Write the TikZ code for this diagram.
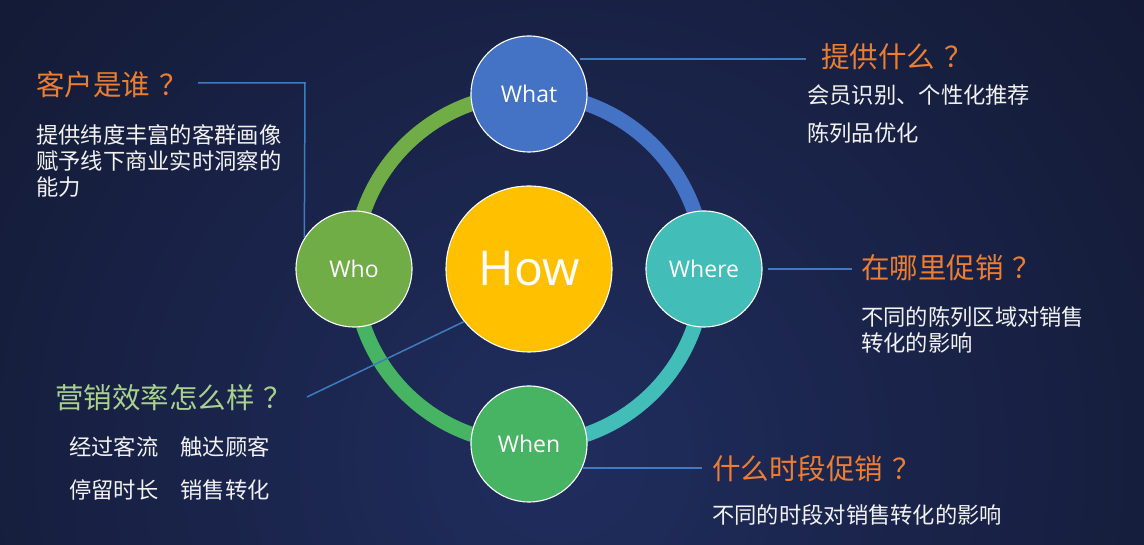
\documentclass[tikz,border=0pt]{standalone}
\usepackage{fontspec}
\newfontfamily\cjk{Noto Sans CJK SC}
\newfontfamily\latinf{Open Sans}
\usetikzlibrary{calc}
\newcommand{\qmk}{\hspace{0.32em}？}
\definecolor{bginner}{HTML}{202D5E}
\definecolor{bgouter}{HTML}{0E1223}
\definecolor{cWhat}{HTML}{4472C4}
\definecolor{cWho}{HTML}{70AD47}
\definecolor{cWhere}{HTML}{43BDB7}
\definecolor{cWhen}{HTML}{46B463}
\definecolor{cHow}{HTML}{FFC000}
\definecolor{cLine}{HTML}{3F7BBE}
\definecolor{cOrange}{HTML}{ED7D31}
\definecolor{cLgreen}{HTML}{A9D18E}
\definecolor{cBody}{HTML}{F2F2F2}
\tikzset{
  sat/.style={circle, draw=white, line width=1.1pt, minimum size=116pt, inner sep=0pt,
    text=white, font=\latinf\fontsize{23}{23}\selectfont},
  ring/.style={line width=15pt},
  conn/.style={draw=cLine, line width=1.5pt},
  qtitle/.style={anchor=west, inner sep=0pt, text=cOrange, font=\cjk\fontsize{28.5}{30}\selectfont},
  qbody/.style={anchor=west, inner sep=0pt, text=cBody, font=\cjk\fontsize{22.3}{24}\selectfont},
}
\begin{document}
\begin{tikzpicture}[x=1pt,y=1pt]
\useasboundingbox (0,0) rectangle (1144,545);
\fill[bgouter] (0,0) rectangle (1144,545);
\begin{scope}
  \clip (0,0) rectangle (1144,545);
  \shade[inner color=bginner, outer color=bgouter] (560,90) circle (1050);
\end{scope}
% ring
\coordinate (ctr) at (529,276);
\draw[ring, cWhat]  (704,276) arc[start angle=0,   end angle=90,  radius=175];
\draw[ring, cWho]   (529,451) arc[start angle=90,  end angle=180, radius=175];
\draw[ring, cWhen]  (354,276) arc[start angle=180, end angle=270, radius=175];
\draw[ring, cWhere] (529,101) arc[start angle=270, end angle=360, radius=175];
% circles
\node[sat, fill=cWhat]  (what)  at (529,451) {What};
\node[sat, fill=cWho]   (who)   at (354,276) {Who};
\node[sat, fill=cWhere] (where) at (704,276) {Where};
\node[sat, fill=cWhen]  (when)  at (529,101) {When};
\node[circle, draw=white, line width=1.1pt, fill=cHow, minimum size=166pt, inner sep=0pt,
      text=white, font=\latinf\fontsize{48}{48}\selectfont] (how) at (529,276) {How};
% connector end points
\coordinate (wl1) at (198,462);
\coordinate (wl2) at (305,462);
\coordinate (wte) at (806,486);
\coordinate (wre) at (852,276);
\coordinate (wne) at (702,77);
\coordinate (hq)  at (307,148);
% connectors
\draw[conn] (wl1) -- (wl2) -- (who.148);
\draw[conn, shorten <=4pt] (what.37) -- (what.37 -| wte);
\draw[conn, shorten <=5pt] (where.east) -- (wre);
\draw[conn, shorten <=1pt] (when.-24) -- (when.-24 -| wne);
\draw[conn] (how.219) -- (hq);
% texts: who
\node[qtitle] (t1) at (36,460) {客户是谁\qmk};
\node[qbody] (b1a) at (36,410) {提供纬度丰富的客群画像};
\node[qbody] (b1b) at (36,384) {赋予线下商业实时洞察的};
\node[qbody] (b1c) at (36,358) {能力};
% what
\node[qtitle] (t2) at (821,488) {提供什么\qmk};
\node[qbody] (b2a) at (807,450) {会员识别、个性化推荐};
\node[qbody] (b2b) at (807,412) {陈列品优化};
% where
\node[qtitle] (t3) at (861,277) {在哪里促销\qmk};
\node[qbody] (b3a) at (861,228) {不同的陈列区域对销售};
\node[qbody] (b3b) at (861,202) {转化的影响};
% when
\node[qtitle] (t4) at (712,76) {什么时段促销\qmk};
\node[qbody] (b4a) at (712,30) {不同的时段对销售转化的影响};
% how
\node[qtitle, text=cLgreen] (t5) at (55,147) {营销效率怎么样\qmk};
\node[qbody] (b5a) at (69,98) {经过客流　触达顾客};
\node[qbody] (b5b) at (69,55) {停留时长　销售转化};
\end{tikzpicture}
\end{document}
